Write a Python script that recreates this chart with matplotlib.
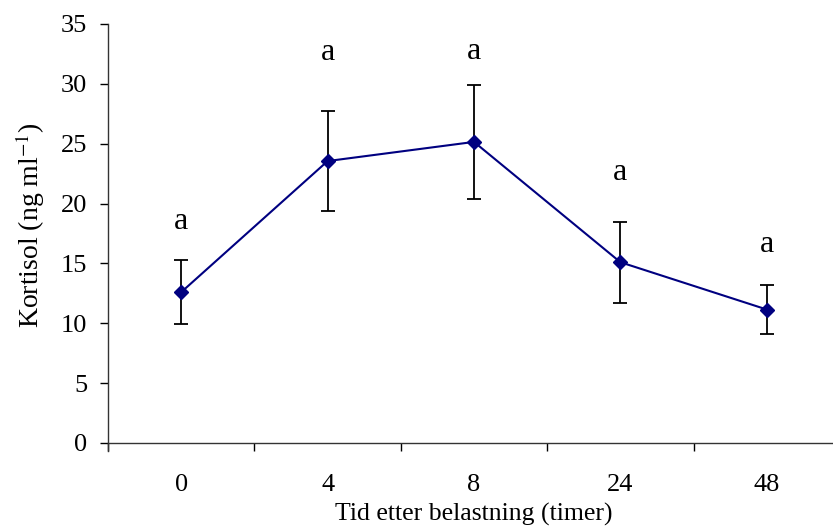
import matplotlib.pyplot as plt
import numpy as np

plt.rcParams['font.family'] = ['Liberation Serif', 'DejaVu Serif']
plt.rcParams['font.size'] = 19
plt.rcParams['mathtext.fontset'] = 'stix'

# cortisol after load, mean +/- SE
timer = ['0', '4', '8', '24', '48']
kortisol = [12.6, 23.55, 25.15, 15.1, 11.15]
feil = [2.65, 4.15, 4.75, 3.37, 2.02]
bokstav = ['a', 'a', 'a', 'a', 'a']
bokstav_y = [18.5, 32.6, 32.7, 22.6, 16.6]

fig = plt.figure(figsize=(8.33, 5.26), dpi=100)
ax = fig.add_axes([0.1297, 0.1578, 0.8787, 0.7966])

x = np.arange(len(timer))
ax.errorbar(x, kortisol, yerr=feil, fmt='none', ecolor='black',
            elinewidth=1.3, capsize=5, capthick=1.3, zorder=2)
ax.plot(x, kortisol, color='#000080', lw=1.5, marker='D', ms=7.5,
        markerfacecolor='#000080', markeredgecolor='#000080', zorder=3)

for xi, yi, s in zip(x, bokstav_y, bokstav):
    ax.text(xi, yi, s, ha='center', va='center', fontsize=23)

ax.set_xlim(-0.5, 4.5)
ax.set_ylim(0, 35)
ax.set_yticks(np.arange(0, 36, 5))

# tick marks sit between categories, labels at the categories
ax.set_xticks(np.arange(-0.5, 5, 1.0))
ax.set_xticklabels([])
ax.set_xticks(x, minor=True)
ax.set_xticklabels(timer, minor=True)
ax.tick_params(axis='x', which='major', direction='out', length=6, width=1)
ax.tick_params(axis='x', which='minor', length=0, pad=22.5)
ax.tick_params(axis='y', direction='out', length=6, width=1, pad=9)

for side in ['top', 'right']:
    ax.spines[side].set_visible(False)
for side in ['left', 'bottom']:
    ax.spines[side].set_linewidth(1)
    ax.spines[side].set_color('#333333')
ax.spines['left'].set_bounds(-0.7, 35)

ax.set_ylabel('Kortisol (ng ml$^{-1}$)', fontsize=20)
ax.yaxis.set_label_coords(-0.084, 0.52)
ax.set_xlabel('Tid etter belastning (timer)', fontsize=18.5)
ax.xaxis.set_label_coords(0.5, -0.143)

fig.savefig('out.png', dpi=100)
